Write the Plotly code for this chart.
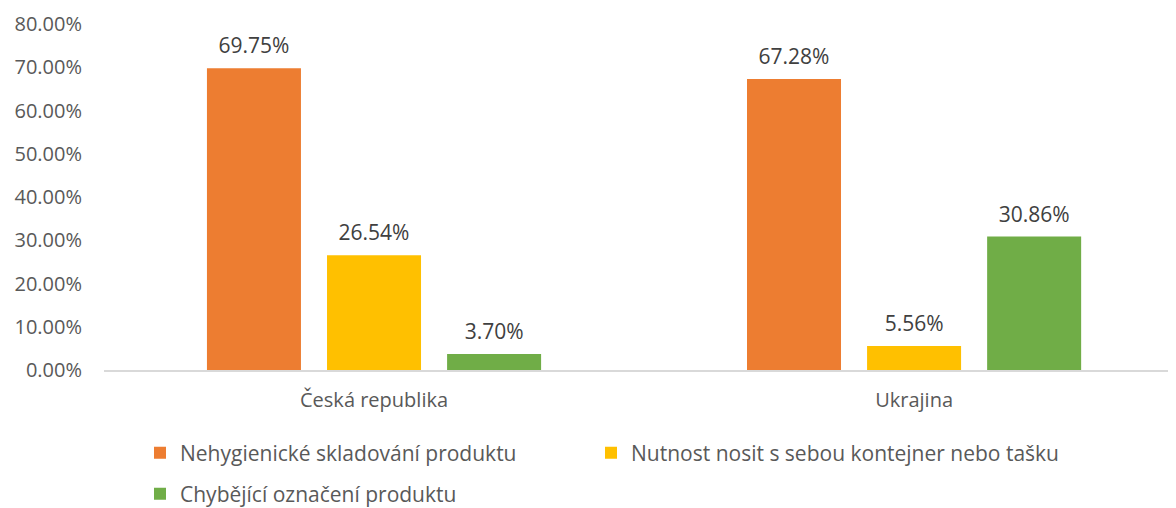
import plotly.graph_objects as go

categories = ["Česká republika", "Ukrajina"]
series_names = [
    "Nehygienické skladování produktu",
    "Nutnost nosit s sebou kontejner nebo tašku",
    "Chybějící označení produktu",
]
values_unhygienic = [0.6975, 0.6728]
values_container = [0.2654, 0.0556]
values_labeling = [0.0370, 0.3086]
colors = ["#ED7D31", "#FFC000", "#70AD47"]
y_ticks = [0, 0.1, 0.2, 0.3, 0.4, 0.5, 0.6, 0.7, 0.8]

FONT = "Open Sans"
W, H = 1168, 500   # page body has an 8px margin inside the 1176x508 window
all_values = [values_unhygienic, values_container, values_labeling]
legend_ids = ["legend", "legend2", "legend3"]
# legend placement (figure pixels): left x, row centre y
legend_pos = [(132, 445), (583, 445), (132, 486)]

fig = go.Figure()
for name, vals, col, lg in zip(series_names, all_values, colors, legend_ids):
    fig.add_trace(go.Bar(
        x=categories, y=vals, name=name,
        marker=dict(color=col, line=dict(width=0)),
        legend=lg, hoverinfo="skip",
    ))
for name, vals in zip(series_names, all_values):
    fig.add_trace(go.Scatter(
        x=categories, y=vals, mode="markers+text",
        text=[f"{v*100:.2f}%" for v in vals],
        textposition="top center",
        textfont=dict(family=FONT, size=21, color="#404040"),
        marker=dict(size=14, color="rgba(0,0,0,0)"),
        cliponaxis=False, showlegend=False, hoverinfo="skip",
    ))

layout_legends = {}
for lg, (px, py) in zip(legend_ids, legend_pos):
    layout_legends[lg] = dict(
        orientation="h", xref="container", yref="container",
        x=px / W, y=1 - py / H, xanchor="left", yanchor="middle",
        font=dict(family=FONT, size=21, color="#595959"),
        bgcolor="rgba(0,0,0,0)", itemclick=False, itemdoubleclick=False,
    )

fig.update_layout(
    width=W, height=H,
    margin=dict(l=96, r=0, t=16, b=138, autoexpand=False),
    paper_bgcolor="white", plot_bgcolor="white",
    barmode="group", bargap=0.333, bargroupgap=0.217,
    scattermode="group", scattergap=0.333,
    font=dict(family=FONT, size=20, color="#595959"),
    showlegend=True,
    **layout_legends,
)

fig.update_xaxes(
    range=[-0.5, 1.485], automargin=False,
    showgrid=False, zeroline=False,
    showline=True, linecolor="#D9D9D9", linewidth=1.5,
    ticks="", ticklabelstandoff=11,
    tickfont=dict(family=FONT, size=20, color="#595959"),
)
fig.update_yaxes(
    range=[0, 0.8], tickvals=y_ticks, tickformat=".2%", automargin=False,
    showgrid=False, zeroline=False, showline=False,
    ticks="", ticklabelstandoff=21,
    tickfont=dict(family=FONT, size=20, color="#595959"),
)

fig.write_html("out.html")
